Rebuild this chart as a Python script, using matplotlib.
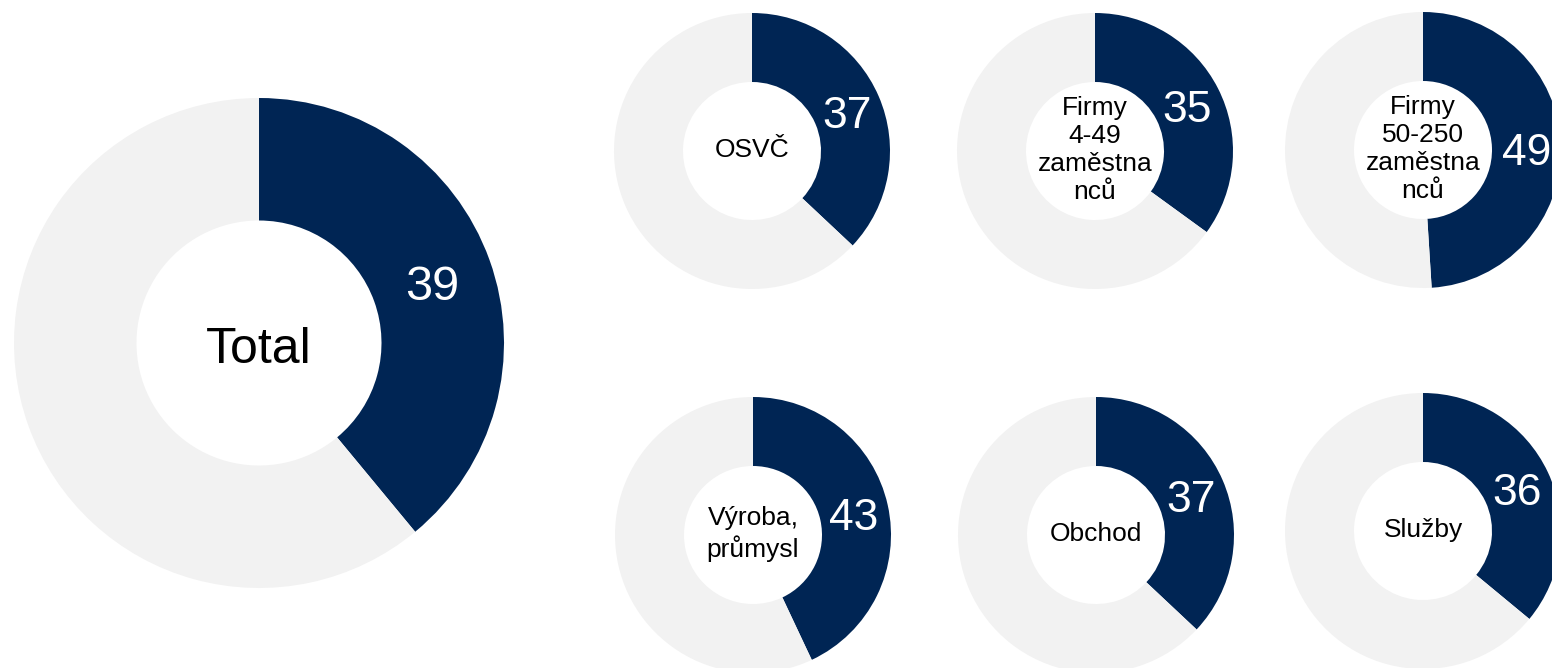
import matplotlib
matplotlib.use("Agg")
import matplotlib.pyplot as plt

# values (share in %)
labels = ["Total", "OSVČ", "Firmy\n4-49\nzaměstna\nnců", "Firmy\n50-250\nzaměstna\nnců",
          "Výroba,\nprůmysl", "Obchod", "Služby"]
values = [39, 37, 35, 49, 43, 37, 36]

# layout in pixels: donut centres (x, y from top) and outer radii
centres = [(259, 343), (752, 151), (1095, 151), (1423, 150),
           (753, 535), (1096, 535), (1423, 531)]
radii = [245, 138, 138, 138, 138, 138, 138]

navy = "#002554"
grey = "#f2f2f2"

plt.rcParams['font.family'] = ['Liberation Sans', 'DejaVu Sans']

W, H = 1552, 668
fig = plt.figure(figsize=(W / 100, H / 100), dpi=100)
ax = fig.add_axes([0, 0, 1, 1])


def cap_half(size):
    # half the cap height in pixels for a font size in points
    return 0.358 * size * 100 / 72


for i in range(len(values)):
    cx, cy = centres[i]
    r = radii[i]
    big = (i == 0)
    vsize = 35 if big else 32
    wedges, texts, autotexts = ax.pie(
        [values[i], 100 - values[i]],
        colors=[navy, grey],
        startangle=90, counterclock=False,
        center=(cx, H - cy), radius=r,
        wedgeprops=dict(width=r * 0.5, linewidth=0),
        autopct='%.0f', pctdistance=0.75,
        textprops=dict(color="white", fontsize=vsize))
    autotexts[1].set_text("")
    tx, ty = autotexts[0].get_position()
    autotexts[0].set_position((tx, ty - 2 - cap_half(vsize)))
    autotexts[0].set_va("baseline")
    if big:
        ax.text(cx, H - cy - 2 - cap_half(36), labels[i], ha="center", va="baseline",
                fontsize=36, color="black")
    else:
        ax.text(cx, H - cy + 1, labels[i], ha="center", va="center",
                fontsize=19, color="black", linespacing=1.2)

ax.set_xlim(0, W)
ax.set_ylim(0, H)
ax.set_aspect("equal")
ax.axis("off")

fig.savefig("out.png", dpi=100, facecolor="white")
